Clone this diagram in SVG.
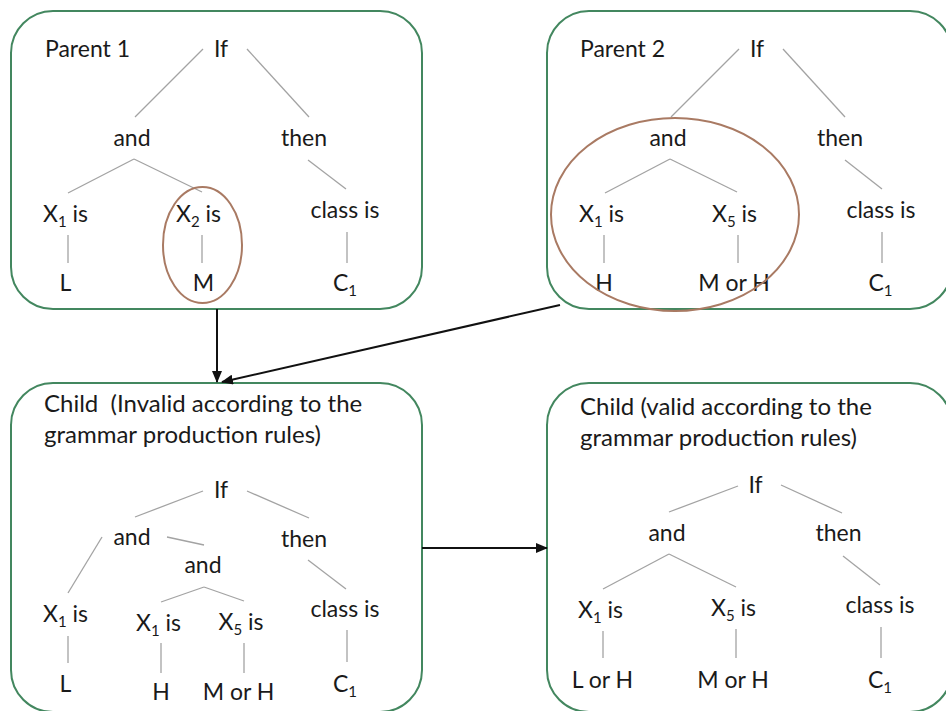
<svg xmlns="http://www.w3.org/2000/svg" width="946" height="711" viewBox="0 0 946 711">
<style>
text{font-family:Lato,"Liberation Sans",sans-serif;font-size:23px;fill:#1a1a1a}
.ti{font-size:24px}
.m{text-anchor:middle}
.s{font-size:15px}
.box{fill:none;stroke:#43875f;stroke-width:2}
.t line{stroke:#a3a3a3;stroke-width:1.3}
.ell{fill:none;stroke:#a97a63;stroke-width:2}
.c line{stroke:#111;stroke-width:2}
</style>
<defs>
<marker id="ah" markerUnits="userSpaceOnUse" markerWidth="12" markerHeight="10" refX="11" refY="5" orient="auto">
<path d="M0,0 L12,5 L0,10 Z" fill="#111"/>
</marker>
</defs>
<rect width="946" height="711" fill="#fff"/>

<g id="parent1">
<rect class="box" x="11" y="11" width="411" height="298" rx="42"/>
<text x="45" y="57">Parent 1</text>
<g class="t">
<line x1="203" y1="49" x2="135" y2="117"/><line x1="247" y1="49" x2="309" y2="117"/>
<line x1="134" y1="159" x2="68" y2="193"/><line x1="134" y1="159" x2="202" y2="192"/>
<line x1="308" y1="160" x2="346" y2="189"/>
<line x1="68" y1="235" x2="68" y2="263"/><line x1="202" y1="235" x2="202" y2="263"/><line x1="347" y1="232" x2="347" y2="263"/>
</g>
<text class="m" x="221" y="57">If</text>
<text class="m" x="132" y="146">and</text>
<text class="m" x="304" y="146">then</text>
<text class="m" x="65.5" y="222">X<tspan class="s" dy="5">1</tspan><tspan dy="-5"> is</tspan></text>
<text class="m" x="198.5" y="222">X<tspan class="s" dy="5">2</tspan><tspan dy="-5"> is</tspan></text>
<text class="m" x="345" y="218">class is</text>
<text class="m" x="65.5" y="291">L</text>
<text class="m" x="203.5" y="291">M</text>
<text class="m" x="345" y="291">C<tspan class="s" dy="5">1</tspan></text>
<ellipse class="ell" cx="202.5" cy="245" rx="39.5" ry="58"/>
</g>

<g id="parent2">
<rect class="box" x="547" y="11" width="405" height="298" rx="42"/>
<text x="580" y="57">Parent 2</text>
<g class="t">
<line x1="739" y1="49" x2="671" y2="117"/><line x1="783" y1="49" x2="845" y2="117"/>
<line x1="670" y1="159" x2="605" y2="193"/><line x1="670" y1="159" x2="737" y2="192"/>
<line x1="845" y1="160" x2="882" y2="189"/>
<line x1="604" y1="235" x2="604" y2="263"/><line x1="738" y1="235" x2="738" y2="263"/><line x1="882" y1="232" x2="882" y2="263"/>
</g>
<text class="m" x="757" y="57">If</text>
<text class="m" x="668" y="146">and</text>
<text class="m" x="840" y="146">then</text>
<text class="m" x="601.5" y="222">X<tspan class="s" dy="5">1</tspan><tspan dy="-5"> is</tspan></text>
<text class="m" x="734.5" y="222">X<tspan class="s" dy="5">5</tspan><tspan dy="-5"> is</tspan></text>
<text class="m" x="881" y="218">class is</text>
<text class="m" x="604" y="291">H</text>
<text class="m" x="734" y="291">M or H</text>
<text class="m" x="880.5" y="291">C<tspan class="s" dy="5">1</tspan></text>
<ellipse class="ell" cx="675" cy="214.5" rx="124" ry="96.5"/>
</g>

<g id="child-invalid">
<rect class="box" x="11" y="383" width="411" height="329" rx="42"/>
<text class="ti" x="44" y="412" style="white-space:pre">Child  (Invalid according to the</text>
<text class="ti" x="44" y="443">grammar production rules)</text>
<g class="t">
<line x1="203" y1="491" x2="135" y2="517"/><line x1="247" y1="491" x2="309" y2="518"/>
<line x1="102" y1="537" x2="68" y2="593"/><line x1="167" y1="537" x2="204" y2="545"/>
<line x1="204" y1="587" x2="161" y2="602"/><line x1="204" y1="587" x2="244" y2="601"/>
<line x1="308" y1="560" x2="346" y2="589"/>
<line x1="68" y1="636" x2="68" y2="663"/><line x1="161" y1="643" x2="161" y2="673"/><line x1="244" y1="643" x2="244" y2="673"/><line x1="347" y1="630" x2="347" y2="662"/>
</g>
<text class="m" x="221" y="498">If</text>
<text class="m" x="132" y="545">and</text>
<text class="m" x="304" y="547">then</text>
<text class="m" x="203" y="573">and</text>
<text class="m" x="65.5" y="622">X<tspan class="s" dy="5">1</tspan><tspan dy="-5"> is</tspan></text>
<text class="m" x="158.5" y="631">X<tspan class="s" dy="5">1</tspan><tspan dy="-5"> is</tspan></text>
<text class="m" x="241" y="630">X<tspan class="s" dy="5">5</tspan><tspan dy="-5"> is</tspan></text>
<text class="m" x="345" y="617">class is</text>
<text class="m" x="65.5" y="692">L</text>
<text class="m" x="161" y="700">H</text>
<text class="m" x="238.5" y="700">M or H</text>
<text class="m" x="345" y="692">C<tspan class="s" dy="5">1</tspan></text>
</g>

<g id="child-valid">
<rect class="box" x="547" y="383" width="405" height="329" rx="42"/>
<text class="ti" x="580" y="415">Child (valid according to the</text>
<text class="ti" x="580" y="446">grammar production rules)</text>
<g class="t">
<line x1="738" y1="486" x2="669" y2="512"/><line x1="781" y1="485" x2="842" y2="513"/>
<line x1="669" y1="554" x2="603" y2="589"/><line x1="669" y1="554" x2="736" y2="587"/>
<line x1="843" y1="556" x2="880" y2="585"/>
<line x1="603" y1="631" x2="603" y2="658"/><line x1="736" y1="629" x2="736" y2="658"/><line x1="881" y1="627" x2="881" y2="658"/>
</g>
<text class="m" x="755.5" y="493">If</text>
<text class="m" x="667" y="541">and</text>
<text class="m" x="838.5" y="541">then</text>
<text class="m" x="600.5" y="618">X<tspan class="s" dy="5">1</tspan><tspan dy="-5"> is</tspan></text>
<text class="m" x="733.5" y="616">X<tspan class="s" dy="5">5</tspan><tspan dy="-5"> is</tspan></text>
<text class="m" x="880" y="613">class is</text>
<text class="m" x="602.5" y="688">L or H</text>
<text class="m" x="733" y="688">M or H</text>
<text class="m" x="880" y="688">C<tspan class="s" dy="5">1</tspan></text>
</g>

<g id="connectors" class="c">
<line x1="217" y1="309" x2="217" y2="382" marker-end="url(#ah)"/>
<line x1="560" y1="305" x2="222" y2="382" marker-end="url(#ah)"/>
<line x1="422" y1="548" x2="547" y2="548" marker-end="url(#ah)"/>
</g>
</svg>
